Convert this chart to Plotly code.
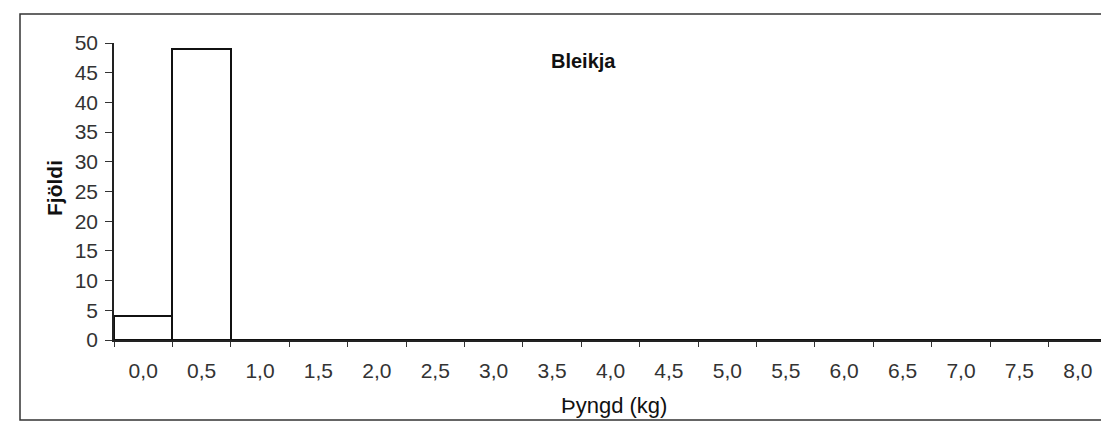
import plotly.graph_objects as go

categories = ["0,0", "0,5", "1,0", "1,5", "2,0", "2,5", "3,0", "3,5", "4,0",
              "4,5", "5,0", "5,5", "6,0", "6,5", "7,0", "7,5", "8,0"]
counts = [4, 49, 0, 0, 0, 0, 0, 0, 0, 0, 0, 0, 0, 0, 0, 0, 0]
y_ticks = [0, 5, 10, 15, 20, 25, 30, 35, 40, 45, 50]

W, H = 1109, 430
L, R, T, B = 106, 10, 35, 98
pw, ph = W - L - R, H - T - B

def px(x):
    return (x - L) / pw

def py(y):
    return (H - B - y) / ph

fig = go.Figure(go.Bar(
    x=categories, y=counts,
    marker=dict(color="white", line=dict(color="#111", width=2)),
    showlegend=False,
))

FAM = "Liberation Sans, Arial, sans-serif"
font = dict(family=FAM, size=21, color="#333")

fig.update_layout(
    width=W, height=H,
    margin=dict(l=L, r=R, t=T, b=B),
    paper_bgcolor="white", plot_bgcolor="white",
    bargap=0,
    font=font,
    xaxis=dict(
        type="category", tickson="boundaries", ticks="outside", ticklen=5,
        tickcolor="#333", showline=True, linecolor="#222", linewidth=1.5,
        showgrid=False, ticklabelstandoff=11, tickfont=font,
        range=[-0.5, len(categories) - 0.5],
    ),
    yaxis=dict(
        range=[0, 50], tickvals=y_ticks, ticks="outside", ticklen=7,
        tickcolor="#333", showline=True, linecolor="#222", linewidth=1.5,
        showgrid=False, zeroline=False, tickfont=font, ticklabelstandoff=3,
    ),
    shapes=[dict(type="rect", xref="paper", yref="paper",
                 x0=px(12), x1=px(1104), y0=py(412), y1=py(6),
                 line=dict(color="#333", width=1.5), fillcolor="rgba(0,0,0,0)")],
    annotations=[
        dict(text="<b>Bleikja</b>", xref="paper", yref="paper", x=px(575), y=py(53),
             xanchor="center", yanchor="middle",
             showarrow=False, font=dict(family=FAM, size=20, color="#111")),
        dict(text="Þyngd (kg)", xref="paper", yref="paper", x=px(606), y=py(397),
             xanchor="center", yanchor="middle",
             showarrow=False, font=dict(family=FAM, size=22, color="#111")),
        dict(text="<b>Fjöldi</b>", xref="paper", yref="paper", x=px(46), y=py(180),
             xanchor="center", yanchor="middle",
             showarrow=False, textangle=-90,
             font=dict(family=FAM, size=21, color="#111")),
    ],
)

fig.write_html("out.html")
